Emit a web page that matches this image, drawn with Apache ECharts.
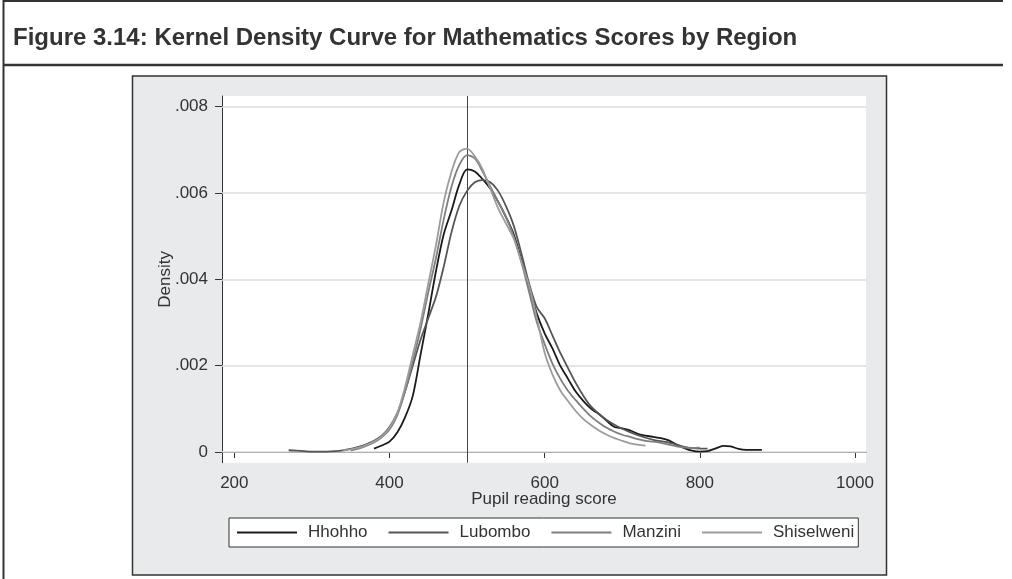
<!DOCTYPE html>
<html><head><meta charset="utf-8">
<script src="https://cdn.jsdelivr.net/npm/echarts@6/dist/echarts.min.js"></script>
<style>html,body{margin:0;padding:0;background:#fff}#c{width:1012px;height:579px}</style>
</head><body><div id="c"></div>
<script>
const titleText = 'Figure 3.14: Kernel Density Curve for Mathematics Scores by Region';
const xAxisTitle = 'Pupil reading score';
const yAxisTitle = 'Density';
const regions = ['Hhohho', 'Lubombo', 'Manzini', 'Shiselweni'];
const xTicks = [200, 400, 600, 800, 1000];
const yTicks = [0, 0.002, 0.004, 0.006, 0.008];
const referenceScore = 500;

const hhohhoX = [380,390,400,410,420,430,440,450,460,470,480,490,500,510,520,530,540,550,560,570,580,590,600,610,620,630,640,650,660,670,680,690,700,710,720,730,740,750,760,770,780,790,800,810,820,830,840,850,860,870,880];
const hhohhoY = [0.00008,0.00015,0.00024,0.00045,0.00080,0.00130,0.00225,0.00320,0.00420,0.00505,0.00560,0.00620,0.00655,0.00650,0.00632,0.00610,0.00580,0.00545,0.00505,0.00445,0.00380,0.00320,0.00275,0.00240,0.00200,0.00170,0.00140,0.00118,0.00100,0.00088,0.00072,0.00058,0.00055,0.00050,0.00042,0.00038,0.00035,0.00032,0.00027,0.00017,0.00009,0.00003,0.00001,0.00002,0.00008,0.00014,0.00013,0.00007,0.00005,0.00005,0.00005];

const lubomboX = [270,280,290,300,310,320,330,340,350,360,370,380,390,400,410,420,430,440,450,460,470,480,490,500,510,520,530,540,550,560,570,580,590,600,610,620,630,640,650,660,670,680,690,700,710,720,730,740,750,760,770,780,790,800,810];
const lubomboY = [0.00004,0.00003,0.00002,0.00001,0.00001,0.00001,0.00002,0.00004,0.00007,0.00012,0.00018,0.00026,0.00038,0.00058,0.00090,0.00140,0.00200,0.00260,0.00310,0.00360,0.00430,0.00510,0.00570,0.00605,0.00625,0.00630,0.00625,0.00605,0.00570,0.00525,0.00460,0.00390,0.00335,0.00310,0.00270,0.00230,0.00195,0.00160,0.00130,0.00105,0.00088,0.00074,0.00063,0.00054,0.00046,0.00039,0.00033,0.00028,0.00025,0.00022,0.00017,0.00012,0.00009,0.00008,0.00008];

const manziniX = [350,360,370,380,390,400,410,420,430,440,450,460,470,480,490,500,510,520,530,540,550,560,570,580,590,600,610,620,630,640,650,660,670,680,690,700,710,720,730,740,750,760,770,780,790,800];
const manziniY = [0.00004,0.00008,0.00014,0.00022,0.00034,0.00052,0.00085,0.00140,0.00210,0.00285,0.00370,0.00450,0.00540,0.00615,0.00665,0.00688,0.00680,0.00650,0.00615,0.00580,0.00545,0.00500,0.00440,0.00370,0.00300,0.00250,0.00205,0.00170,0.00142,0.00120,0.00100,0.00082,0.00068,0.00056,0.00047,0.00040,0.00035,0.00030,0.00026,0.00024,0.00021,0.00017,0.00013,0.00010,0.00009,0.00010];

const shiselweniX = [340,350,360,370,380,390,400,410,420,430,440,450,460,470,480,490,500,510,520,530,540,550,560,570,580,590,600,610,620,630,640,650,660,670,680,690,700,710,720,730];
const shiselweniY = [0.00003,0.00006,0.00010,0.00016,0.00024,0.00036,0.00056,0.00090,0.00150,0.00225,0.00300,0.00390,0.00480,0.00580,0.00650,0.00695,0.00703,0.00685,0.00655,0.00610,0.00565,0.00530,0.00495,0.00440,0.00385,0.00310,0.00230,0.00180,0.00143,0.00118,0.00095,0.00076,0.00062,0.00050,0.00040,0.00032,0.00026,0.00020,0.00017,0.00015];

const seriesX = [hhohhoX, lubomboX, manziniX, shiselweniX];
const seriesY = [hhohhoY, lubomboY, manziniY, shiselweniY];
const colors = ['#1a1a1a', '#555555', '#7f7f7f', '#9c9c9c'];

const font = 'Liberation Sans, Arial, sans-serif';
const txt = '#333';
const xMin = 184.1, xMax = 1014.2, yMin = -0.000248, yMax = 0.008248;

const chart = echarts.init(document.getElementById('c'), null, {renderer: 'canvas'});

const curveSeries = regions.map((name, i) => ({
  name, type: 'line', symbol: 'none', showSymbol: false, smooth: 0.3, clip: false, z: 5,
  lineStyle: {color: colors[i], width: 1.8},
  itemStyle: {color: colors[i]},
  data: seriesX[i].map((x, j) => [x, seriesY[i][j]])
}));

chart.setOption({
  animation: false,
  backgroundColor: '#fff',
  title: {
    text: titleText, left: 8, top: 21,
    textStyle: {fontFamily: font, fontWeight: 'bold', fontSize: 24, color: '#333'}
  },
  graphic: [
    {type: 'line', shape: {x1: 3, y1: 1, x2: 1003, y2: 1}, style: {stroke: '#333', lineWidth: 2}},
    {type: 'line', shape: {x1: 3.5, y1: 0, x2: 3.5, y2: 579}, style: {stroke: '#333', lineWidth: 2}},
    {type: 'line', shape: {x1: 3, y1: 65, x2: 1003, y2: 65}, style: {stroke: '#333', lineWidth: 2.5}},
    {type: 'rect', z: -10, shape: {x: 132.5, y: 76, width: 754, height: 499}, style: {fill: '#e9eaec', stroke: '#333', lineWidth: 1.5}}
  ],
  grid: {left: 222, top: 96, width: 644, height: 366.7, show: true, backgroundColor: '#fff', borderWidth: 0, z: 0},
  legend: {
    data: regions, left: 229, top: 518,
    backgroundColor: '#fff', borderColor: '#333', borderWidth: 1,
    padding: [6, 4, 6, 8], itemGap: 21, itemWidth: 60, itemHeight: 2, icon: 'rect',
    textStyle: {fontFamily: font, fontSize: 17, color: txt, padding: [0, 0, 0, 6]}
  },
  xAxis: {
    type: 'value', min: xMin, max: xMax,
    name: xAxisTitle, nameLocation: 'middle', nameGap: 28, nameMoveOverlap: false,
    nameTextStyle: {fontFamily: font, fontSize: 17, color: txt},
    axisLine: {show: true, lineStyle: {color: '#333', width: 1}},
    axisTick: {show: true, length: 6, customValues: xTicks, lineStyle: {color: '#333'}},
    axisLabel: {customValues: xTicks, fontFamily: font, fontSize: 17, color: txt, margin: 12,
      formatter: v => String(Math.round(v))},
    splitLine: {show: false}
  },
  yAxis: {
    type: 'value', min: yMin, max: yMax,
    name: yAxisTitle, nameLocation: 'middle', nameGap: 48, nameRotate: 90, nameMoveOverlap: false,
    nameTextStyle: {fontFamily: font, fontSize: 17, color: txt},
    axisLine: {show: true, lineStyle: {color: '#333', width: 1}},
    axisTick: {show: true, length: 7, customValues: yTicks, lineStyle: {color: '#333'}},
    axisLabel: {customValues: yTicks, fontFamily: font, fontSize: 17, color: txt, margin: 14,
      formatter: v => Math.abs(v) < 1e-9 ? '0' : v.toFixed(3).replace(/^0/, '')},
    splitLine: {show: false}
  },
  series: [
    {
      name: '_grid', type: 'line', data: [], z: 3, silent: true,
      markLine: {
        silent: true, symbol: 'none', label: {show: false}, animation: false,
        lineStyle: {color: '#dcdcdc', width: 1.5, type: 'solid'},
        data: yTicks.map(v => [{coord: [xMin, v]}, {coord: [xMax, v]}])
      }
    },
    {
      name: '_ref', type: 'line', data: [], z: 4, silent: true,
      markLine: {
        silent: true, symbol: 'none', label: {show: false}, animation: false,
        lineStyle: {color: '#444', width: 1, type: 'solid'},
        data: [{xAxis: referenceScore}]
      }
    },
    ...curveSeries
  ]
});
</script></body></html>
